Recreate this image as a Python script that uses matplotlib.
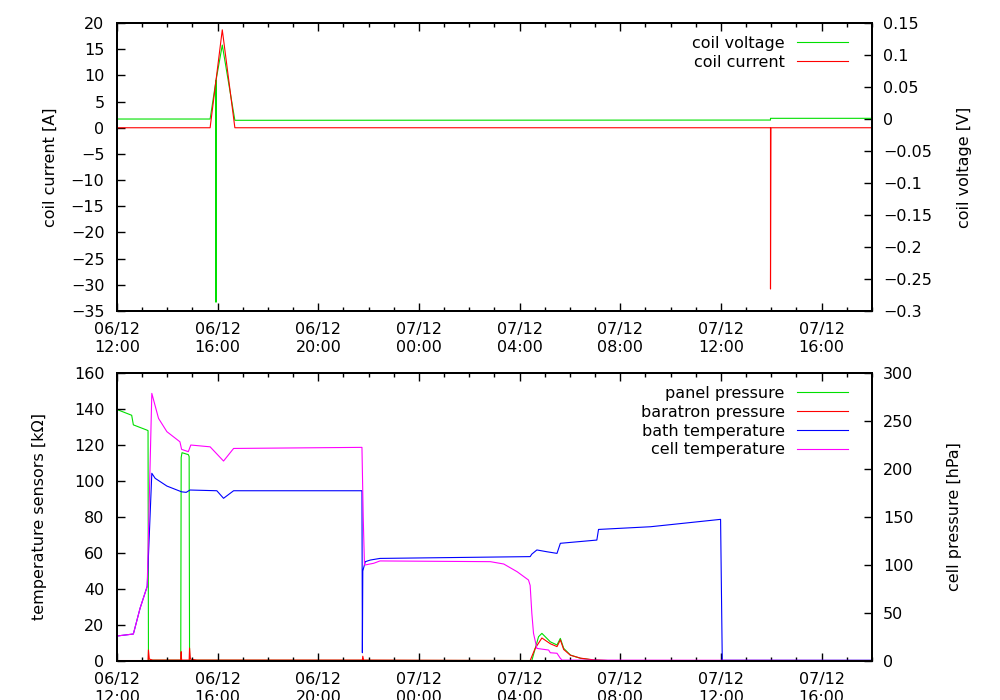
import pandas as pd
import matplotlib
matplotlib.use("Agg")
import matplotlib.pyplot as plt
import matplotlib.dates as mdates

plt.rcParams["font.family"] = ["DejaVu Sans"]
plt.rcParams["font.size"] = 11.5

# ---- top panel: coil ----
current_time = ["2012-12-06 12:00", "2012-12-06 15:42", "2012-12-06 16:11", "2012-12-06 16:41",
                "2012-12-07 13:58", "2012-12-07 13:58", "2012-12-07 13:59", "2012-12-07 18:00"]
current_amp = [0, 0, 18.7, 0, 0, -30.8, 0, 0]

voltage_time = ["2012-12-06 12:00", "2012-12-06 15:42", "2012-12-06 15:56", "2012-12-06 15:56",
                "2012-12-06 15:56", "2012-12-06 16:11", "2012-12-06 16:41", "2012-12-07 13:58",
                "2012-12-07 13:58", "2012-12-07 18:00"]
voltage_volt = [0.0, 0.0, 0.06, -0.286, 0.06, 0.1156, -0.002, -0.0016, 0.0011, 0.0011]

# ---- bottom panel: pressures [hPa] ----
panel_time = ["2012-12-06 12:00", "2012-12-06 12:35", "2012-12-06 12:39", "2012-12-06 13:11",
              "2012-12-06 13:14", "2012-12-06 13:15", "2012-12-06 14:32", "2012-12-06 14:33",
              "2012-12-06 14:35", "2012-12-06 14:50", "2012-12-06 14:52", "2012-12-06 14:53",
              "2012-12-07 04:29", "2012-12-07 04:45", "2012-12-07 04:53", "2012-12-07 05:13",
              "2012-12-07 05:29", "2012-12-07 05:37", "2012-12-07 05:45", "2012-12-07 06:01",
              "2012-12-07 06:25", "2012-12-07 06:56", "2012-12-07 07:30", "2012-12-07 18:00"]
panel_hpa = [262, 256, 246, 240.6, 240, 0.8, 0.8, 212, 217, 215, 213, 0.8,
             0.5, 25.3, 28.8, 20, 16.7, 23.6, 13.2, 6.2,
             2.8, 1.0, 0.5, 0.5]

baratron_time = ["2012-12-06 12:00", "2012-12-06 13:14", "2012-12-06 13:15", "2012-12-06 13:17",
                 "2012-12-06 13:25", "2012-12-06 14:32", "2012-12-06 14:33", "2012-12-06 14:34",
                 "2012-12-06 14:52", "2012-12-06 14:53", "2012-12-06 14:55", "2012-12-06 15:10",
                 "2012-12-06 21:45", "2012-12-06 21:46", "2012-12-06 21:48", "2012-12-07 04:25",
                 "2012-12-07 04:37", "2012-12-07 04:53", "2012-12-07 05:13", "2012-12-07 05:29",
                 "2012-12-07 05:37", "2012-12-07 05:45", "2012-12-07 06:01", "2012-12-07 06:25",
                 "2012-12-07 06:56", "2012-12-07 07:30", "2012-12-07 18:00"]
baratron_hpa = [0.5, 0.5, 11.5, 2, 1, 1, 9.7, 1, 1, 13.5, 2, 1,
                1, 5, 1, 0.5, 13.2, 24, 18, 15,
                22, 12, 6, 3, 1.2, 0.5, 0.5]

# ---- bottom panel: temperature sensors [kOhm] ----
bath_time = ["2012-12-06 12:00", "2012-12-06 12:39", "2012-12-06 12:55", "2012-12-06 13:12",
             "2012-12-06 13:23", "2012-12-06 13:31", "2012-12-06 13:59", "2012-12-06 14:34",
             "2012-12-06 14:45", "2012-12-06 14:54", "2012-12-06 15:58", "2012-12-06 16:14",
             "2012-12-06 16:38", "2012-12-06 21:44", "2012-12-06 21:45", "2012-12-06 21:46",
             "2012-12-06 21:52", "2012-12-06 22:04", "2012-12-06 22:27", "2012-12-07 04:25",
             "2012-12-07 04:29", "2012-12-07 04:41", "2012-12-07 05:05", "2012-12-07 05:29",
             "2012-12-07 05:37", "2012-12-07 07:04", "2012-12-07 07:08", "2012-12-07 09:12",
             "2012-12-07 11:59", "2012-12-07 12:03", "2012-12-07 18:00"]
bath_kohm = [13.9, 15, 29.3, 41.5, 104.3, 101.5, 97.2, 94, 93.7, 95, 94.6, 90.4,
             94.6, 94.6, 4.6, 50, 55.2, 56.1, 57, 58,
             59.4, 61.7, 60.7, 59.8, 65.4, 67.2, 73.1, 74.6,
             78.7, 0.4, 0.4]

cell_time = ["2012-12-06 12:00", "2012-12-06 12:39", "2012-12-06 12:55", "2012-12-06 13:12",
             "2012-12-06 13:23", "2012-12-06 13:39", "2012-12-06 13:59", "2012-12-06 14:30",
             "2012-12-06 14:34", "2012-12-06 14:50", "2012-12-06 14:56", "2012-12-06 15:42",
             "2012-12-06 16:14", "2012-12-06 16:38", "2012-12-06 21:44", "2012-12-06 21:47",
             "2012-12-06 21:50", "2012-12-06 22:12", "2012-12-06 22:27", "2012-12-07 02:50",
             "2012-12-07 03:22", "2012-12-07 03:54", "2012-12-07 04:21", "2012-12-07 04:25",
             "2012-12-07 04:29", "2012-12-07 04:33", "2012-12-07 04:41", "2012-12-07 05:09",
             "2012-12-07 05:13", "2012-12-07 05:29", "2012-12-07 05:37", "2012-12-07 05:41",
             "2012-12-07 18:00"]
cell_kohm = [13.9, 15, 29.3, 41.5, 148.7, 134.8, 127.4, 121.8, 117.6, 116.3, 120, 119,
             111.1, 118.1, 118.7, 80, 53.3, 54.3, 55.6, 55.2,
             53.9, 49.6, 45, 42, 26.5, 15.4, 7, 6.1,
             4.6, 4.3, 1.5, 0.5, 0.3]

t0 = pd.Timestamp("2012-12-06 12:00")
t1 = pd.Timestamp("2012-12-07 18:00")

fig = plt.figure(figsize=(10, 7), dpi=100)
ax_top = fig.add_axes([0.117, 0.5557, 0.755, 0.4114])
ax_top_r = ax_top.twinx()
ax_bot = fig.add_axes([0.117, 0.0557, 0.755, 0.4114])
ax_bot_r = ax_bot.twinx()

lw = 0.8
green = "#00e000"

l_volt, = ax_top_r.plot(pd.to_datetime(voltage_time), voltage_volt, color=green, lw=lw,
                        label="coil voltage")
l_curr, = ax_top.plot(pd.to_datetime(current_time), current_amp, color="red", lw=lw,
                      label="coil current")

l_panel, = ax_bot_r.plot(pd.to_datetime(panel_time), panel_hpa, color=green, lw=lw,
                         label="panel pressure")
l_bar, = ax_bot_r.plot(pd.to_datetime(baratron_time), baratron_hpa, color="red", lw=lw,
                       label="baratron pressure")
l_bath, = ax_bot.plot(pd.to_datetime(bath_time), bath_kohm, color="blue", lw=lw,
                      label="bath temperature")
l_cell, = ax_bot.plot(pd.to_datetime(cell_time), cell_kohm, color="magenta", lw=lw,
                      label="cell temperature")

# left axes drawn above the twins
for ax, axr in [(ax_top, ax_top_r), (ax_bot, ax_bot_r)]:
    ax.set_zorder(axr.get_zorder() + 1)
    ax.patch.set_visible(False)
    ax.set_xlim(t0, t1)
    ax.xaxis.set_major_locator(mdates.HourLocator(byhour=[0, 4, 8, 12, 16, 20]))
    ax.xaxis.set_minor_locator(mdates.HourLocator())
    ax.xaxis.set_major_formatter(mdates.DateFormatter("%d/%m\n%H:%M"))
    ax.tick_params(axis="x", which="both", direction="in", top=True, bottom=True)
    ax.tick_params(axis="x", which="major", length=6, width=1.0, pad=8)
    ax.tick_params(axis="x", which="minor", length=3, width=1.0)
    ax.tick_params(axis="y", which="major", direction="in", length=6, width=1.0, pad=9,
                   right=False)
    axr.tick_params(axis="y", which="major", direction="in", length=6, width=1.0, pad=8)
    for sp in ax.spines.values():
        sp.set_linewidth(1.4)
    for sp in axr.spines.values():
        sp.set_linewidth(1.4)

ax_top.set_ylim(-35, 20)
ax_top.set_yticks(range(-35, 21, 5))
ax_top_r.set_ylim(-0.3, 0.15)
ax_top_r.set_yticks([-0.3, -0.25, -0.2, -0.15, -0.1, -0.05, 0, 0.05, 0.1, 0.15])
ax_top_r.set_yticklabels(["\u22120.3", "\u22120.25", "\u22120.2", "\u22120.15", "\u22120.1",
                          "\u22120.05", "0", "0.05", "0.1", "0.15"])

ax_bot.set_ylim(0, 160)
ax_bot.set_yticks(range(0, 161, 20))
ax_bot_r.set_ylim(0, 300)
ax_bot_r.set_yticks(range(0, 301, 50))

fig.text(0.050, 1 - 167 / 700, "coil current [A]", rotation=90, ha="center", va="center")
fig.text(0.965, 1 - 167 / 700, "coil voltage [V]", rotation=90, ha="center", va="center")
fig.text(0.040, 1 - 517 / 700, "temperature sensors [k\u03a9]", rotation=90, ha="center",
         va="center")
fig.text(0.955, 1 - 517 / 700, "cell pressure [hPa]", rotation=90, ha="center", va="center")

leg_kw = dict(loc="upper right", frameon=False, markerfirst=False, borderpad=0,
              borderaxespad=0, handlelength=3.2, handletextpad=0.75, labelspacing=0.24)
ax_top.legend([l_volt, l_curr], ["coil voltage", "coil current"],
              bbox_to_anchor=(0.968, 0.955), **leg_kw)
ax_bot.legend([l_panel, l_bar, l_bath, l_cell],
              ["panel pressure", "baratron pressure", "bath temperature", "cell temperature"],
              bbox_to_anchor=(0.968, 0.955), **leg_kw)

fig.savefig("out.png", dpi=100)
